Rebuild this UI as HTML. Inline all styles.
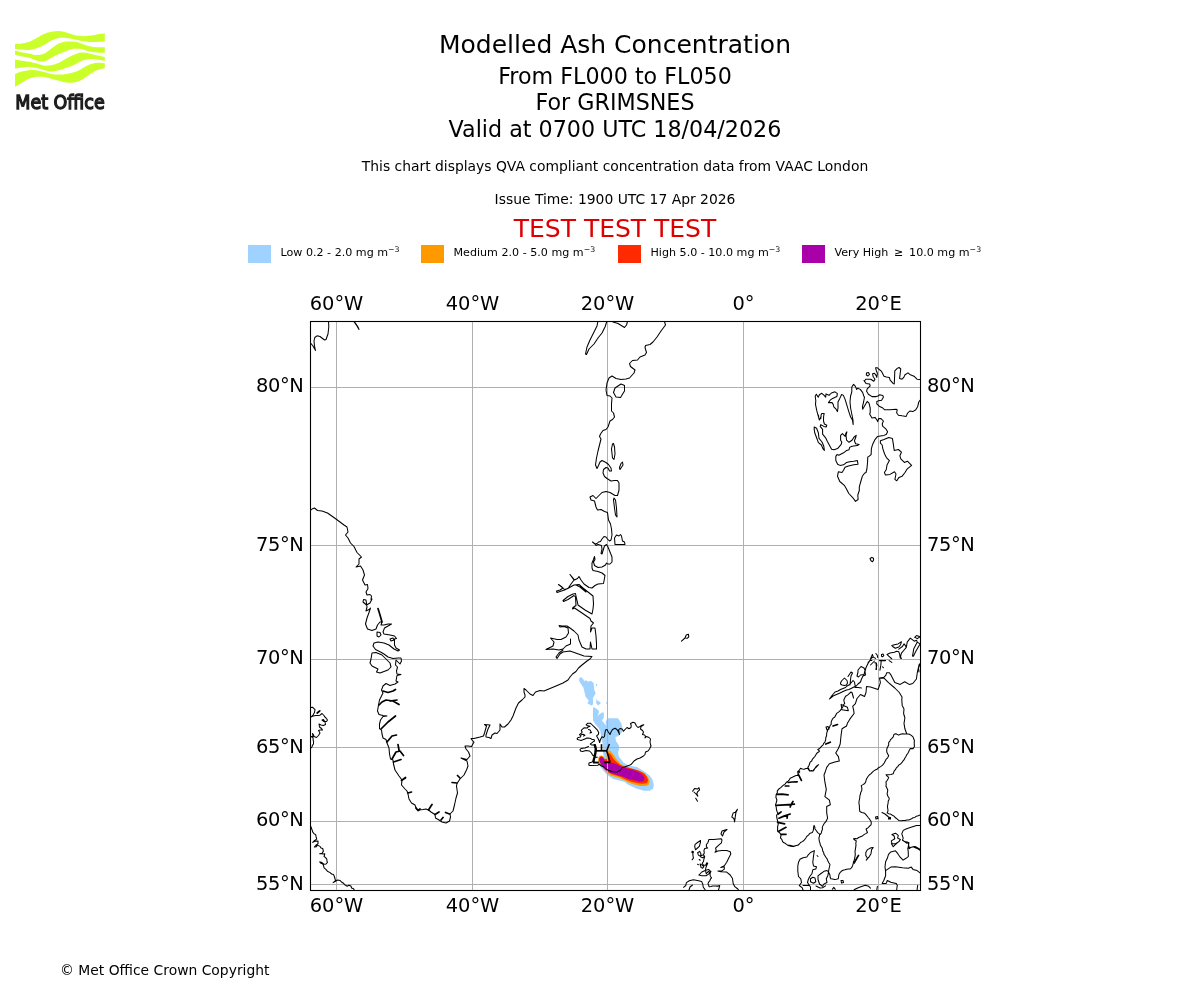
<!DOCTYPE html>
<html><head><meta charset="utf-8"><title>Modelled Ash Concentration</title>
<style>html,body{margin:0;padding:0;background:#fff;}body{width:1200px;height:1000px;overflow:hidden;}svg{display:block;font-family:'DejaVu Sans', 'Liberation Sans', sans-serif;will-change:transform;}</style>
</head><body>
<svg width="1200" height="1000" viewBox="0 0 1200 1000">
<g fill="#cbff2a">
<path d="M15.0,44.2 C15.9,44.1 17.9,44.2 20.2,43.8 C22.5,43.4 26.3,42.9 28.9,42.0 C31.5,41.1 33.2,39.9 35.7,38.5 C38.2,37.1 41.4,35.0 44.0,33.9 C46.6,32.8 48.9,32.2 51.4,31.7 C53.9,31.2 56.4,31.0 58.9,31.1 C61.4,31.2 63.8,31.9 66.3,32.6 C68.8,33.3 71.4,34.5 73.9,35.1 C76.4,35.7 78.8,36.0 81.4,36.1 C84.0,36.2 86.9,36.0 89.5,35.7 C92.1,35.4 94.4,34.9 96.9,34.5 C99.5,34.1 103.5,33.5 104.8,33.3 L104.8,41.3 C103.5,41.4 99.5,41.9 96.9,42.0 C94.4,42.1 92.1,42.2 89.5,42.0 C86.9,41.8 84.0,41.5 81.4,41.0 C78.8,40.5 76.4,39.8 73.9,39.3 C71.4,38.8 68.8,38.1 66.3,37.9 C63.8,37.7 61.4,37.5 58.9,37.9 C56.4,38.3 53.9,39.2 51.4,40.4 C48.9,41.6 46.6,43.6 44.0,45.0 C41.4,46.4 38.2,47.7 35.7,48.5 C33.2,49.3 31.5,49.9 28.9,50.0 C26.3,50.1 22.5,49.5 20.2,49.4 C17.9,49.2 15.9,49.1 15.0,49.1 Z"/>
<path d="M15.0,50.6 C15.9,50.8 17.9,51.4 20.2,51.9 C22.5,52.4 26.3,52.9 28.9,53.4 C31.5,53.9 33.2,54.9 35.7,55.0 C38.2,55.1 41.4,54.9 44.0,53.8 C46.6,52.7 48.9,50.2 51.4,48.5 C53.9,46.8 56.4,44.6 58.9,43.5 C61.4,42.4 63.8,41.9 66.3,41.6 C68.8,41.3 71.4,41.3 73.9,41.6 C76.4,41.9 78.8,42.7 81.4,43.5 C84.0,44.3 86.9,45.7 89.5,46.3 C92.1,46.9 94.4,47.1 96.9,47.2 C99.5,47.4 103.5,47.2 104.8,47.2 L104.8,52.8 C103.5,52.8 99.5,52.7 96.9,52.5 C94.4,52.3 92.1,52.2 89.5,51.6 C86.9,51.0 84.0,49.6 81.4,49.1 C78.8,48.6 76.4,48.5 73.9,48.8 C71.4,49.1 68.8,50.0 66.3,50.9 C63.8,51.8 61.4,52.9 58.9,54.0 C56.4,55.1 53.9,56.5 51.4,57.8 C48.9,59.0 46.6,61.1 44.0,61.5 C41.4,61.9 38.2,60.8 35.7,60.2 C33.2,59.6 31.5,58.5 28.9,57.8 C26.3,57.1 22.5,56.5 20.2,56.0 C17.9,55.5 15.9,54.9 15.0,54.7 Z"/>
<path d="M15.0,59.6 C15.9,59.8 17.9,60.1 20.2,60.5 C22.5,60.9 26.3,61.3 28.9,61.8 C31.5,62.3 33.2,62.7 35.7,63.3 C38.2,63.9 41.4,65.2 44.0,65.5 C46.6,65.8 48.9,65.7 51.4,65.2 C53.9,64.7 56.4,63.8 58.9,62.7 C61.4,61.6 63.8,59.7 66.3,58.4 C68.8,57.1 71.4,55.7 73.9,54.7 C76.4,53.7 78.8,52.7 81.4,52.5 C84.0,52.3 86.9,52.9 89.5,53.4 C92.1,53.9 94.4,54.7 96.9,55.3 C99.5,55.9 103.5,56.8 104.8,57.1 L104.8,60.9 C103.5,60.7 99.5,59.9 96.9,59.6 C94.4,59.3 92.1,58.8 89.5,59.0 C86.9,59.2 84.0,59.9 81.4,60.9 C78.8,61.9 76.4,63.8 73.9,64.9 C71.4,66.0 68.8,66.8 66.3,67.7 C63.8,68.6 61.4,69.6 58.9,70.2 C56.4,70.8 53.9,71.4 51.4,71.4 C48.9,71.4 46.6,70.6 44.0,70.0 C41.4,69.4 38.2,68.2 35.7,67.7 C33.2,67.2 31.5,67.0 28.9,67.0 C26.3,67.0 22.5,67.4 20.2,67.7 C17.9,68.0 15.9,68.4 15.0,68.6 Z"/>
<path d="M15.0,74.2 C15.9,73.8 17.9,72.7 20.2,72.0 C22.5,71.3 26.3,70.5 28.9,70.2 C31.5,69.9 33.2,69.9 35.7,70.2 C38.2,70.5 41.4,71.4 44.0,72.0 C46.6,72.6 48.9,73.5 51.4,73.9 C53.9,74.3 56.4,74.5 58.9,74.5 C61.4,74.5 63.8,74.3 66.3,73.9 C68.8,73.5 71.4,73.1 73.9,72.3 C76.4,71.5 78.8,70.2 81.4,68.9 C84.0,67.6 86.9,65.6 89.5,64.6 C92.1,63.6 94.4,62.9 96.9,62.7 C99.5,62.5 103.5,63.2 104.8,63.3 L104.8,68.3 C103.5,68.6 99.5,69.2 96.9,70.2 C94.4,71.2 92.1,72.8 89.5,74.5 C86.9,76.2 84.0,78.8 81.4,80.1 C78.8,81.4 76.4,82.2 73.9,82.6 C71.4,83.0 68.8,82.9 66.3,82.6 C63.8,82.3 61.4,81.3 58.9,80.7 C56.4,80.1 53.9,79.4 51.4,78.8 C48.9,78.2 46.6,77.3 44.0,77.0 C41.4,76.7 38.2,76.7 35.7,77.0 C33.2,77.3 31.5,77.7 28.9,78.8 C26.3,79.9 22.5,82.4 20.2,83.8 C17.9,85.2 15.9,86.4 15.0,86.9 Z"/>
</g>
<text x="15.3" y="108.9" font-family="'DejaVu Sans', sans-serif" font-weight="normal" font-size="20.2" fill="#1e1e1e" stroke="#1e1e1e" stroke-width="1.4" textLength="89.4" lengthAdjust="spacingAndGlyphs">Met Office</text>
<text x="615" y="53" font-size="25" text-anchor="middle" fill="#000" >Modelled Ash Concentration</text>
<text x="615" y="83.8" font-size="22.22" text-anchor="middle" fill="#000" >From FL000 to FL050</text>
<text x="615" y="110.2" font-size="22.22" text-anchor="middle" fill="#000" >For GRIMSNES</text>
<text x="615" y="136.9" font-size="22.22" text-anchor="middle" fill="#000" >Valid at 0700 UTC 18/04/2026</text>
<text x="615" y="171" font-size="13.89" text-anchor="middle" fill="#000" >This chart displays QVA compliant concentration data from VAAC London</text>
<text x="615" y="203.7" font-size="13.89" text-anchor="middle" fill="#000" >Issue Time: 1900 UTC 17 Apr 2026</text>
<text x="615" y="236.6" font-size="25" text-anchor="middle" fill="#dc0000" >TEST TEST TEST</text>
<rect x="248" y="245" width="23" height="18" fill="#a0d2ff"/>
<text x="280.5" y="256.2" font-size="11.11">Low 0.2 - 2.0 mg m<tspan font-size="7.8" dy="-4.2">−3</tspan></text>
<rect x="421" y="245" width="23" height="18" fill="#ff9900"/>
<text x="453.5" y="256.2" font-size="11.11">Medium 2.0 - 5.0 mg m<tspan font-size="7.8" dy="-4.2">−3</tspan></text>
<rect x="618" y="245" width="23" height="18" fill="#ff2a00"/>
<text x="650.5" y="256.2" font-size="11.11">High 5.0 - 10.0 mg m<tspan font-size="7.8" dy="-4.2">−3</tspan></text>
<rect x="802" y="245" width="23" height="18" fill="#aa00aa"/>
<text x="834.5" y="256.2" font-size="11.11">Very High  ≥  10.0 mg m<tspan font-size="7.8" dy="-4.2">−3</tspan></text>
<defs><clipPath id="mc"><rect x="310.5" y="321.5" width="610" height="569"/></clipPath></defs>
<g clip-path="url(#mc)">
<path fill="#a0d2ff" d="M579.2,678.6 L581,677.1 L583.7,679.8 L584,681.6 L585.5,680.1 L587.6,681.6 L591.2,681 L593.6,683.1 L594.2,689.4 L595.7,693.6 L593,697.8 L593,704.4 L591.2,705.6 L587.3,703.2 L588.8,700.8 L585.5,696.6 L584.6,692.4 L583.4,687.6 L581,684 L579.2,681 Z"/><path fill="#a0d2ff" d="M596.3,698.4 L597.5,700.8 L600.2,702 L600.8,703.2 L598.1,705.6 L596.3,703.2 Z"/><path fill="#a0d2ff" d="M593,707.4 L594.8,707.4 L598.7,710.4 L599,712.2 L597.2,716.4 L599,714.6 L602.6,712.2 L603.8,712.8 L603.8,717.6 L602,720.6 L605,724.2 L606.2,725.4 L605.6,721.8 L606.8,719.4 L608,718.2 L617.9,718.2 L621.2,723 L622.4,727.8 L622.3,732 L618.1,736.2 L615.3,736.9 L616,741.1 L618.8,745.3 L619.2,748.8 L618.1,752.3 L618.8,756.5 L623.7,762.8 L628.6,765.6 L637,767 L644,771.2 L649.6,775.4 L652.4,779.6 L653.8,784.5 L653.1,788.7 L649.6,790.8 L644,790.8 L637,788.7 L632.1,786.6 L627.9,784.5 L624.4,781.7 L618.1,780.3 L613.2,778.9 L609.7,776.8 L606.2,774 L602.7,769.8 L599.9,766.3 L598,762 L599,759 L601,758 L603.5,757 L603,750 L603,745 L602,741 L601,735 L600.2,730.8 L598.4,727.8 L595.4,724.2 L593,720.6 Z"/><rect x="596" y="684" width="1" height="2" fill="#a0d2ff"/><rect x="606.3" y="702" width="0.8" height="2" fill="#a0d2ff"/><path fill="#ff9900" d="M608,750.2 L610.4,750.9 L613.2,754.4 L616,758.6 L619.5,762.8 L623,765.6 L628.6,767.7 L634.2,769.1 L640.5,771.2 L645.4,774 L648.2,777.5 L649.6,781 L648.9,784.5 L646.1,785.9 L640.5,785.9 L634.2,784.5 L628.6,782.4 L624.4,780.3 L619.5,778.2 L614.6,776.8 L610.4,775.4 L607.6,773.3 L604.8,770.5 L602,767 L599.5,764 L598.2,761 L598.2,758 L599.5,756 L601.5,755.5 L603.2,756.5 L604.2,758.5 L606.5,758.8 L606.8,755 L606.3,751.5 Z"/><path fill="#ff2a00" d="M609,753 L611.1,755.1 L613.2,758.6 L616,761.4 L620.2,764.9 L625.8,767 L631.4,768.4 L638.4,770.5 L644,773.3 L646.8,776.8 L648.2,780.3 L646.8,783.1 L642.6,783.8 L637,783.1 L631.4,781.7 L625.8,779.6 L620.2,776.8 L616,775.4 L611.1,774 L608.3,771.9 L605.5,769.1 L602.7,765.6 L600.4,763 L599,760.5 L599,758.2 L600,756.7 L601.7,756.3 L603.4,757.2 L604.5,759.3 L607.5,759.3 L607.5,756 L607,752.5 Z"/><path fill="#aa00aa" d="M600.2,757.4 L601.7,757 L603.3,758.3 L604.2,760 L604.6,761.8 L609,762.6 L613.9,763.2 L618.1,764.9 L622.3,767 L627.2,768.4 L632.8,769.8 L638.4,771.9 L642.6,774.7 L644.7,778.2 L644,781 L639.8,781.7 L634.2,780.3 L628.6,778.9 L623.7,776.8 L618.8,775.4 L613.9,774 L609,772.6 L605.5,769.8 L602.7,767 L600.8,764 L599.7,761 L599.6,758.8 Z"/>
<g stroke="#b0b0b0" stroke-width="1" fill="none">
<line x1="336.5" y1="321" x2="336.5" y2="890"/>
<line x1="472.5" y1="321" x2="472.5" y2="890"/>
<line x1="607.5" y1="321" x2="607.5" y2="890"/>
<line x1="743.5" y1="321" x2="743.5" y2="890"/>
<line x1="878.5" y1="321" x2="878.5" y2="890"/>
<line x1="310" y1="387.5" x2="920" y2="387.5"/>
<line x1="310" y1="545.5" x2="920" y2="545.5"/>
<line x1="310" y1="659.5" x2="920" y2="659.5"/>
<line x1="310" y1="747.5" x2="920" y2="747.5"/>
<line x1="310" y1="821.5" x2="920" y2="821.5"/>
<line x1="310" y1="884.5" x2="920" y2="884.5"/>
</g>
<g stroke="#000" fill="none" stroke-linejoin="round" stroke-linecap="round">
<path stroke-width="1.05" d="M311.0,343.5 L313.0,346.0 L315.5,350.5 L314.5,346.0 L314.0,341.0 L314.8,337.5 L317.0,335.8 L320.0,336.5 L324.5,340.0 L326.0,339.5 L328.0,334.0 L328.8,327.0 L328.5,321.0 M353.5,321.0 L357.0,326.0 L359.0,329.5 L358.0,327.0 L355.0,322.5 L354.5,321.0 M598.0,321.0 L597.0,326.0 L594.0,332.0 L590.0,340.0 L587.0,347.0 L585.5,354.0 L586.5,354.5 L589.0,349.0 L594.0,344.0 L598.0,338.0 L602.0,333.0 L605.0,327.0 L606.5,322.5 L607.0,321.0 M612.0,321.0 L613.0,322.0 L618.0,323.5 L624.5,327.5 L626.5,325.0 L627.5,321.5 M664.5,321.5 L665.5,325.0 L661.0,331.0 L657.0,337.0 L653.0,342.0 L650.0,344.5 L645.5,345.5 L645.0,347.5 L646.5,352.5 L645.0,355.0 L640.0,357.0 L637.5,360.0 L632.5,360.5 L629.5,363.5 L630.5,366.5 L635.0,370.0 L634.0,373.0 L629.5,378.0 L626.0,379.0 L621.0,379.5 L616.0,378.5 L612.0,376.0 L609.0,378.0 L607.0,383.0 L606.0,390.0 L607.0,395.5 L610.0,396.0 L612.0,398.0 L611.5,404.0 L611.5,411.0 L613.5,413.0 L614.5,417.0 L612.5,419.5 L610.0,421.0 L608.0,427.0 L606.0,429.5 L603.0,430.5 L600.5,434.0 L599.5,436.5 L601.0,439.0 L599.5,445.0 L598.0,451.0 L596.5,458.0 L595.5,465.0 L597.0,468.5 L598.5,465.5 L600.0,462.0 L602.0,460.5 L606.0,462.5 L608.5,464.5 L611.0,468.0 L611.5,471.0 L609.5,471.0 L608.0,468.0 L606.0,467.5 L603.5,469.5 L603.0,473.0 L604.5,476.5 L607.0,478.5 L611.0,481.0 L614.5,480.5 L617.5,480.5 L619.0,483.0 L619.0,490.0 L617.5,495.5 L615.0,495.5 L610.0,492.5 L606.0,491.5 L602.0,492.5 L599.0,495.5 L596.0,498.5 L593.0,495.5 L590.0,497.0 L591.0,500.0 L594.5,501.0 L596.0,507.0 L597.5,510.0 L601.0,509.5 L604.5,511.5 L607.5,512.5 L608.5,520.0 L610.5,524.0 L611.5,529.0 L612.0,535.0 L611.0,540.0 L609.5,541.0 L607.5,539.0 L606.0,537.0 L604.0,536.5 L602.0,539.0 L600.5,541.5 L598.5,542.0 L597.0,543.5 L595.0,544.0 L592.5,542.0 L594.5,543.5 L596.0,545.5 L598.0,544.5 L601.5,545.5 L602.0,549.0 L601.0,553.5 L602.0,554.0 L603.5,549.0 L604.5,546.0 L606.5,544.5 L608.0,547.0 L610.0,552.0 L612.0,557.0 L612.0,562.0 L610.0,564.0 L607.5,564.0 L606.5,563.0 L605.5,565.0 L602.0,567.0 L598.0,567.5 L594.5,565.5 L593.5,562.0 L595.0,559.5 L594.5,556.5 L593.5,559.5 L592.0,563.0 L592.0,568.0 L593.0,570.5 L598.0,571.5 L602.0,573.0 L605.0,575.5 L604.0,581.0 L603.5,583.5 L598.0,584.0 L595.0,585.5 L592.0,588.0 L589.0,587.5 L584.0,584.0 L581.0,580.0 L579.0,576.5 L577.5,578.5 L574.5,580.0 L573.0,578.0 L570.0,574.5 L574.0,580.0 L571.0,584.0 L568.0,588.5 L564.5,589.5 L562.0,587.0 L558.5,584.5 L563.0,588.0 L560.0,590.0 L556.5,591.0 L557.0,592.5 L560.0,591.5 L564.5,590.0 L569.5,587.5 L574.0,585.0 L579.0,584.5 L583.0,588.0 L588.0,592.0 L593.0,596.0 L593.5,604.0 L593.0,609.0 L592.0,614.0 L585.0,610.0 L578.0,605.0 L576.0,596.0 L575.5,593.5 L573.0,594.0 L568.0,596.5 L563.0,600.5 L563.5,601.5 L568.0,599.5 L574.0,595.5 L575.5,597.0 L576.0,605.5 L573.0,607.5 L572.5,609.0 L574.5,608.0 L582.0,613.0 L590.0,618.5 L591.0,621.0 L593.5,623.0 L591.0,626.0 L590.5,632.0 L592.0,628.0 L595.0,628.0 L596.0,636.0 L596.5,644.0 L596.5,649.0 L592.0,649.0 L590.5,642.0 L590.0,649.0 L586.0,649.0 L582.0,647.0 L579.0,640.0 L578.0,635.0 L574.0,631.0 L570.0,628.0 L567.0,626.0 L562.0,626.0 L559.0,625.5 L560.0,627.0 L564.0,626.5 L568.0,628.0 L568.5,633.0 L566.0,637.0 L561.0,639.5 L557.0,639.5 L550.5,638.0 L554.0,642.0 L553.0,646.0 L546.0,649.5 L553.0,649.0 L559.0,650.0 L563.0,649.0 L566.0,646.0 L570.5,644.0 L570.5,639.0 M563.0,650.0 L559.0,653.0 L556.0,657.0 L557.0,658.5 L560.0,654.0 L563.0,652.0 L570.0,651.0 L577.0,653.5 L584.0,656.0 L592.0,656.5 L590.0,659.0 L587.0,661.0 L582.0,665.0 L578.5,668.0 L576.0,671.5 L572.5,674.0 L570.0,677.0 L568.0,680.0 L563.0,683.0 L556.0,686.0 L550.0,688.5 L544.0,691.0 L540.0,690.5 L535.5,692.0 L533.0,695.5 L530.0,694.0 L526.0,690.0 L524.0,688.5 L524.0,692.0 L525.0,695.0 L525.0,697.0 L522.0,700.0 L518.5,703.0 L516.0,708.0 L513.0,716.0 L511.0,720.0 L508.0,724.0 L504.5,727.0 L502.0,727.0 L500.0,724.0 L500.0,730.0 L497.0,733.5 L495.0,733.0 L492.0,735.0 L491.0,738.5 L489.0,737.5 L486.0,737.0 L486.0,735.0 L488.0,729.0 L490.0,725.0 L484.5,724.5 L486.5,726.0 L484.5,733.0 L483.5,736.0 L480.0,737.0 L474.0,738.5 L471.0,738.5 L472.0,740.0 L474.0,742.0 L471.5,746.5 L468.0,746.0 L465.0,746.0 L466.0,749.0 L468.5,752.0 L470.0,756.0 L467.0,759.5 L461.0,758.0 L464.0,759.5 L467.0,761.0 L468.0,766.0 L466.5,770.0 L464.0,775.0 L460.0,779.0 L457.0,783.5 L456.5,786.0 L457.5,793.0 L456.0,798.0 L454.5,805.0 L453.0,811.0 L450.0,814.0 L450.5,817.0 L449.5,821.0 L446.0,823.0 L442.0,822.0 L439.0,820.0 L435.5,818.0 L435.0,814.5 L431.0,812.0 L428.5,810.0 L426.0,809.0 L423.0,809.5 L419.0,810.0 L416.5,809.0 L415.0,805.0 L411.5,803.0 L409.0,799.0 L408.0,794.0 L407.0,791.0 L405.0,789.0 L401.5,785.0 L402.0,780.0 L399.0,776.0 L395.0,770.0 M310.0,511.0 L312.0,509.0 L314.5,508.0 L317.5,510.5 L322.0,511.0 L327.5,513.0 L336.0,519.0 L344.0,525.0 L347.0,527.0 L348.0,532.0 L345.5,535.0 L348.0,538.0 L350.5,543.0 L354.0,546.5 L357.0,552.5 L361.5,557.0 L359.0,559.0 L359.0,564.0 L356.0,567.0 L360.5,566.0 L363.0,570.0 L364.5,575.0 L362.5,580.0 L365.0,585.0 L367.5,584.5 L368.0,588.5 L366.0,592.0 L367.0,595.0 L370.0,594.5 L371.5,596.0 L371.0,599.5 L372.0,599.0 L370.0,603.0 L366.5,605.0 L363.0,602.0 L363.5,599.5 L366.0,600.0 L367.0,607.0 L366.0,611.0 L369.0,609.5 L370.5,608.0 L369.0,612.5 L367.0,618.0 L365.5,624.0 L367.5,629.0 L372.0,630.5 L376.0,629.0 L377.5,625.0 L380.0,622.0 L382.0,622.0 L381.0,625.0 L384.0,625.0 L388.0,624.0 L391.5,624.0 L388.0,626.0 L384.5,628.0 L383.0,632.0 L384.0,634.0 L390.0,635.0 L394.5,636.0 L396.5,638.5 L394.5,639.0 L394.5,645.0 L396.0,648.0 L399.5,650.0 L398.0,651.0 L394.0,649.0 L389.0,645.0 L384.0,643.0 L378.0,642.0 L374.0,643.0 L373.0,646.0 L375.5,649.5 L380.5,652.0 L384.0,654.0 L388.0,657.0 L393.0,658.5 L398.0,658.0 L401.0,658.0 L401.5,661.0 L400.0,664.0 L396.0,660.0 L395.5,665.0 L397.5,667.0 L396.5,671.0 L397.0,674.0 L401.0,674.5 L397.0,675.5 L396.0,681.0 L398.0,682.0 L395.0,684.0 L390.0,685.5 L386.0,683.5 L383.0,686.0 L381.5,690.0 L383.0,693.0 L381.0,697.0 L379.5,700.0 L378.5,705.0 L377.5,711.0 L379.0,714.5 L383.0,715.5 L387.0,716.0 L383.0,716.5 L380.5,720.0 L379.5,724.0 L379.5,728.5 L381.5,730.0 L382.0,734.0 L383.0,738.0 L386.0,739.5 L387.0,743.0 L389.0,748.0 L389.5,754.0 L390.5,759.0 L393.0,760.0 L393.5,764.0 L395.0,770.0 M372.0,653.0 L376.0,652.5 L382.0,655.0 L386.0,659.0 L390.0,663.0 L391.0,667.0 L388.0,670.0 L380.0,673.0 L376.5,672.0 L378.0,669.0 L372.0,666.0 L370.0,663.0 L371.0,659.0 L372.0,653.0 M377.0,632.0 L380.0,632.5 L381.0,635.0 L379.0,637.0 L377.0,636.0 L377.0,632.0 M390.0,639.0 L393.0,638.0 L394.0,640.0 L391.0,641.0 L390.0,639.0 M613.5,443.5 L614.5,447.0 L615.0,454.0 L614.0,459.5 L612.5,458.0 L611.5,449.0 L612.5,444.0 L613.5,443.5 M622.5,462.0 L623.0,465.0 L620.0,469.5 L619.5,467.5 L621.0,463.5 L622.5,462.0 M614.0,498.0 L615.5,500.0 L616.5,508.0 L617.0,517.0 L615.5,515.0 L614.5,508.0 L613.5,500.0 L614.0,498.0 M621.0,384.0 L624.5,385.5 L624.5,391.0 L620.5,397.5 L616.0,397.0 L613.5,392.5 L615.0,388.0 L621.0,384.0 M615.0,544.5 L614.5,538.0 L616.5,535.0 L619.0,536.0 L620.5,534.5 L621.5,536.0 L622.5,541.0 L624.5,542.0 L625.0,544.5 L615.0,544.5 M576.0,585.0 L580.0,587.0 L586.0,592.0 M310.5,707.5 L312.5,707.2 L313.7,708.4 L315.0,709.5 L314.5,712.5 L313.0,715.0 L311.0,717.0 L313.0,716.0 L316.0,715.5 L318.0,715.6 L320.0,715.2 L322.0,713.5 L324.0,715.5 L324.8,716.9 L326.0,718.0 L327.5,720.0 L326.5,721.5 L324.0,721.5 L322.0,720.0 L323.5,719.5 L325.0,722.0 L325.5,724.5 L323.5,725.5 L321.0,725.0 L319.0,724.0 L319.5,727.0 L321.5,728.5 L322.5,730.0 L320.0,730.0 L318.5,730.5 L320.0,733.0 L318.5,735.5 L316.5,737.5 L314.0,736.5 L313.5,734.9 L312.5,733.5 L313.0,736.5 L311.0,736.5 L313.0,737.5 L313.2,740.0 L313.5,742.0 L313.5,744.0 L312.4,745.3 L312.0,747.0 L310.8,748.2 M310.5,826.0 L311.0,827.0 L312.0,829.7 L312.7,831.9 L314.0,833.7 L315.7,834.6 L316.0,836.4 L316.7,839.1 L314.7,840.4 L312.7,842.4 L315.4,841.1 L318.0,841.1 L318.0,843.8 L316.6,844.6 L315.4,845.8 L314.4,847.1 L316.3,846.7 L317.4,845.1 L320.1,846.4 L321.0,848.0 L322.7,848.5 L323.4,851.1 L322.1,853.2 L319.7,853.8 L321.4,853.8 L323.1,854.1 L324.8,853.8 L324.1,856.5 L325.6,857.7 L326.8,859.2 L327.0,860.9 L327.4,862.5 L326.1,863.9 L324.2,864.3 L322.7,863.2 L321.3,862.2 L319.7,861.9 L320.8,863.2 L322.5,863.8 L323.4,865.2 L324.1,867.9 L325.9,869.4 L327.4,871.2 L330.1,872.6 L331.6,874.0 L333.5,874.6 L334.3,876.3 L334.8,878.0 L335.5,880.6 L333.1,882.6 L335.5,881.3 L337.5,880.0 L340.2,880.6 L341.5,882.0 L343.5,883.3 L345.5,885.3 L347.2,886.2 L348.9,885.3 L350.9,886.0 L351.6,888.0 L353.6,888.7 L354.2,890.0 M594.8,744.5 L593.5,745.0 L591.5,744.9 L590.3,744.0 L591.8,742.8 L593.0,741.9 L594.5,741.0 L594.2,739.8 L591.8,739.2 L590.0,738.3 L587.0,738.0 L584.9,738.9 L582.8,739.8 L581.0,740.4 L579.5,740.1 L577.4,739.5 L577.1,738.6 L578.3,737.4 L580.4,737.1 L581.0,735.6 L579.5,734.7 L581.0,733.5 L582.2,732.0 L581.3,730.8 L582.2,729.3 L584.0,727.8 L587.3,728.1 L587.6,727.2 L590.0,726.3 L587.0,725.4 L586.1,724.8 L587.6,723.3 L590.6,723.3 L591.8,724.5 L594.5,727.2 L597.5,730.2 L598.7,732.6 L598.4,734.4 L596.6,735.9 L597.8,738.0 L599.0,740.4 L599.6,742.5 L600.5,739.5 L602.0,736.8 L603.5,737.5 L604.5,736.5 L605.0,732.5 L605.5,730.0 L607.0,729.5 L608.0,731.5 L610.0,734.5 L611.0,732.0 L612.5,729.5 L615.0,728.2 L617.0,729.5 L618.5,732.0 L619.5,734.5 L618.5,730.0 L620.0,728.5 L622.0,729.0 L623.5,731.2 L625.5,729.0 L627.0,727.5 L629.0,728.8 L631.0,727.5 L631.2,725.5 L630.5,723.5 L633.0,722.2 L635.0,723.0 L636.5,726.0 L638.0,727.5 L640.0,726.5 L642.0,725.2 L643.8,724.8 L641.0,726.5 L640.5,729.0 L642.5,730.5 L643.5,732.0 L642.5,734.5 L644.5,735.0 L645.5,736.0 L645.0,738.0 L646.5,736.5 L649.0,737.5 L650.5,739.0 L650.0,742.0 L650.5,744.5 L651.0,746.0 L649.5,749.0 L648.0,751.0 L645.5,752.0 L645.0,754.5 L643.5,756.0 L640.0,758.0 L637.0,759.0 L634.0,761.0 L631.4,764.2 L628.6,765.6 L624.4,767.0 L622.0,767.5 L621.5,769.0 L620.0,770.5 L617.0,772.0 L613.0,771.8 L609.0,770.5 L606.0,769.0 L604.0,767.0 L601.5,766.0 L599.0,764.0 L598.0,765.2 L589.8,765.5 L588.8,765.0 L589.0,763.0 L592.0,762.0 L594.0,761.0 M588.5,746.5 L585.0,748.0 L581.0,748.5 L580.0,749.5 L580.5,751.0 L582.5,751.5 L586.0,750.5 L589.5,751.0 L591.5,753.0 L592.5,755.0 L594.0,756.0 M588.5,729.5 L590.0,730.0 L591.0,731.5 L590.0,733.0 L591.5,732.5 M581.6,734.6 L583.0,734.2 L584.9,735.3 L583.5,736.0 M681.5,641.2 L685.0,638.0 L686.2,635.0 L688.4,634.2 L688.8,636.8 L687.5,638.2 L685.5,638.0 M870.0,558.5 L871.8,557.4 L873.5,558.2 L873.6,560.0 L872.5,561.8 L871.0,560.8 L870.0,558.5 M818.4,415.0 L819.0,419.2 L820.8,418.6 L821.1,415.0 L821.8,413.4 L824.2,413.4 L823.6,416.4 L823.5,421.0 L824.4,424.0 L826.8,425.2 L826.2,427.0 L823.8,426.4 L820.8,424.6 L820.2,426.4 L822.6,429.4 L822.6,434.2 L825.6,437.8 L827.4,441.4 L831.6,449.2 L834.0,449.8 L837.6,448.6 L841.2,444.4 L841.8,442.0 L840.6,440.2 L840.6,435.4 L842.4,433.6 L844.2,435.4 L845.1,436.3 L846.0,433.0 L846.9,431.8 L846.0,435.4 L846.6,440.2 L849.0,442.3 L852.0,440.2 L854.4,436.6 L856.2,435.4 L855.6,437.8 L854.4,440.8 L855.6,443.8 L859.2,444.4 L857.4,445.6 L852.0,446.2 L849.6,447.4 L849.0,449.8 L846.6,450.4 L843.6,452.8 L838.8,455.2 L837.0,454.6 L835.8,456.4 L835.8,460.6 L837.6,464.2 L840.0,465.4 L843.6,464.8 L846.6,462.4 L849.6,461.8 L853.8,461.2 L857.4,460.6 L858.0,464.2 L853.8,464.8 L848.4,466.0 L845.0,467.3 L843.5,470.3 L842.0,472.5 L838.3,471.8 L837.5,476.3 L839.8,481.5 L844.3,485.3 L846.5,489.0 L848.8,493.5 L852.5,497.3 L855.5,501.4 L858.1,499.5 L857.8,495.0 L859.3,490.5 L859.3,486.8 L860.8,481.5 L862.3,476.3 L864.5,473.3 L866.0,472.6 L866.9,469.0 L867.5,463.0 L867.8,457.0 L869.0,456.4 L871.1,454.6 L871.4,448.6 L872.6,444.4 L875.0,439.6 L877.4,436.6 L880.4,436.0 L884.0,435.4 L886.4,434.2 L887.6,431.8 L885.8,428.8 L882.8,426.4 L882.2,424.0 L883.4,421.0 L881.0,418.6 L878.6,418.6 L877.7,421.6 L876.8,419.8 L875.0,417.4 L872.0,418.0 L869.6,414.0 L870.2,412.8 L870.2,408.0 L869.0,403.2 L867.2,401.4 L864.8,405.6 L862.7,409.2 L862.4,406.8 L863.6,402.0 L864.5,397.2 L863.8,396.0 L862.6,392.4 L860.2,389.4 L857.8,388.2 L856.6,389.4 L855.4,386.4 L853.6,384.3 L851.8,387.0 L851.8,391.8 L850.6,396.0 L850.0,402.0 L850.6,408.0 L851.8,414.0 L853.0,420.0 L853.2,424.6 L852.4,420.0 L850.6,417.0 L848.8,411.6 L847.0,405.6 L845.2,399.6 L843.4,395.4 L841.6,394.5 L839.8,398.4 L838.0,402.0 L838.0,408.0 L837.4,411.6 L835.6,408.6 L833.8,406.8 L833.2,404.4 L832.0,402.6 L828.4,402.6 L830.2,400.2 L832.6,398.4 L836.8,396.6 L837.4,393.6 L835.0,391.8 L831.4,393.0 L829.0,395.4 L827.8,394.8 L826.0,393.9 L825.7,397.2 L823.6,394.8 L821.8,393.3 L819.4,394.8 L818.2,397.2 L816.4,394.2 L815.2,396.0 L815.8,400.8 L815.5,404.4 L816.7,410.4 L818.2,415.8 L819.4,420.0 L821.2,416.4 M814.2,427.0 L816.6,428.2 L818.4,433.0 L819.0,438.4 L822.0,442.0 L823.8,446.2 L824.4,450.4 L823.2,449.2 L821.4,445.0 L818.4,442.6 L816.6,437.8 L814.8,433.0 L814.2,429.4 L814.2,427.0 M867.2,388.8 L870.2,385.8 L869.6,384.0 L866.0,383.4 L864.2,381.0 L866.0,379.2 L870.8,379.2 L873.8,381.3 L875.0,379.2 L873.2,376.8 L872.6,373.8 L874.4,373.2 L876.2,375.6 L876.8,377.4 L877.4,373.2 L876.2,370.2 L875.6,367.8 L877.4,367.8 L878.6,369.0 L881.6,371.4 L884.0,376.2 L886.4,377.1 L889.4,377.4 L890.0,379.8 L893.0,383.4 L894.2,384.0 L894.5,379.2 L894.8,370.8 L897.2,368.4 L899.0,367.5 L900.8,369.0 L900.2,373.2 L899.6,378.6 L902.0,379.2 L903.8,377.4 L905.0,374.7 L908.0,372.9 L909.8,374.4 L914.0,376.2 L917.0,379.2 L920.0,379.5 M867.2,388.8 L866.6,391.2 L868.4,394.2 L872.0,396.6 L876.2,396.6 L878.0,396.0 L879.8,394.8 L882.8,395.4 L883.4,397.2 L881.6,400.2 L878.6,400.8 L876.8,401.4 L876.8,403.8 L879.2,406.2 L882.8,408.0 L884.6,409.8 L890.0,409.8 L896.0,409.2 L897.2,409.8 L896.6,412.8 L898.4,415.2 L902.0,415.8 L906.2,416.4 L907.4,413.4 L909.8,411.0 L912.8,411.6 L915.8,409.8 L917.6,406.8 L918.8,402.0 L920.0,400.2 M866.5,373.0 L868.5,372.5 L869.5,374.5 L868.0,376.0 L866.3,375.0 L866.5,373.0 M864.0,380.6 L864.8,381.4 M880.4,440.8 L884.0,439.6 L888.8,437.5 L892.4,438.4 L893.3,443.8 L894.2,450.4 L898.4,449.5 L901.4,452.2 L899.9,455.8 L900.8,458.8 L904.4,462.4 L907.4,461.2 L911.6,465.4 L911.0,465.8 L907.3,468.8 L905.0,472.5 L902.0,476.3 L899.0,477.4 L896.8,480.8 L894.9,479.3 L896.0,474.0 L894.5,471.8 L890.0,474.4 L885.5,475.1 L884.4,472.5 L886.3,469.5 L887.0,465.0 L889.4,460.6 L886.4,457.6 L884.6,454.0 L882.8,448.6 L882.2,445.0 L880.4,443.2 L880.4,440.8 M849.2,693.6 L851.0,692.0 L852.0,692.5 L853.0,696.0 L853.5,698.0 M855.0,687.5 L858.0,684.0 L860.5,682.0 L861.5,679.0 L863.0,676.0 L865.5,675.0 L865.0,671.5 L866.0,667.5 L868.0,663.5 L870.0,660.5 L871.5,658.0 L873.0,657.0 M855.0,687.5 L858.0,687.6 L861.5,688.0 M829.5,699.0 L832.0,695.5 L835.0,692.0 L838.0,691.0 L840.5,689.5 L843.0,688.5 L845.5,687.5 L847.0,686.0 L849.0,685.0 L851.0,683.0 L853.0,680.5 L854.5,682.0 L855.0,685.0 M830.0,698.5 L833.0,696.0 L836.5,694.5 L840.0,693.0 L843.0,691.5 L846.5,690.0 L849.0,689.5 L852.0,688.0 L854.0,687.0 L855.5,685.5 M840.5,683.0 L841.5,681.0 L844.5,678.0 L845.5,679.0 L847.0,680.5 L847.5,683.0 L846.5,685.0 L844.5,685.5 L842.0,685.0 L840.5,684.0 L840.5,683.0 M848.0,676.5 L851.0,672.0 L852.5,673.0 L851.0,676.0 L850.5,680.0 L850.0,685.0 M857.0,676.0 L858.0,672.0 L858.0,670.0 L861.0,666.5 L864.0,668.0 L865.0,670.0 L864.0,674.5 L860.5,675.0 L858.5,677.0 L857.0,676.0 M870.6,658.4 L872.4,654.4 L873.3,657.1 L875.5,658.4 M875.9,653.5 L877.3,655.3 L877.7,657.5 M881.5,654.5 L883.0,654.0 L883.8,655.5 L882.8,656.8 L881.5,656.2 L881.5,654.5 M891.8,658.8 L890.9,658.0 L888.7,656.2 L887.0,654.4 L890.0,653.1 L894.4,652.2 L896.6,651.3 L898.8,651.8 L899.7,654.4 L900.2,658.0 L901.5,658.4 M891.8,645.6 L894.4,644.7 L898.0,643.9 L901.5,641.7 L900.6,644.7 L898.8,647.0 L895.3,648.3 L892.7,646.5 L891.8,645.6 M898.8,649.1 L902.4,646.5 L904.1,643.9 L905.4,645.6 L906.3,647.4 L904.1,650.0 L901.5,653.1 L900.6,656.2 L901.0,658.4 M906.3,647.4 L907.2,642.1 L910.3,638.1 L914.3,641.2 L916.5,640.3 L917.3,642.1 M914.7,637.3 L916.5,635.5 L920.0,636.8 L917.3,638.6 L914.7,637.3 M912.5,656.2 L913.8,648.7 L917.3,642.1 L920.0,643.9 L915.6,651.8 L913.4,656.2 M868.0,662.8 L869.8,660.6 L872.0,660.5 M874.6,662.8 L876.4,663.2 L876.8,665.4 L875.9,669.4 M879.5,660.6 L885.6,660.6 M881.2,661.0 L880.8,665.4 L879.9,670.3 M882.5,666.8 L883.4,667.6 M889.1,660.6 L891.8,662.4 M870.5,665.0 L874.5,661.0 M876.0,662.5 L876.5,669.5 M920.0,664.0 L918.5,668.0 L919.0,672.0 M879.5,678.1 L884.0,677.2 L885.8,675.4 L886.7,672.7 L889.4,672.7 L891.2,675.4 L894.8,682.6 L900.2,684.4 L904.7,681.7 L909.2,684.4 L912.8,683.5 L916.4,679.0 L917.3,672.7 L919.1,664.6 L920.0,663.7 M879.5,678.1 L884.0,678.1 L888.5,682.6 L894.8,688.0 L899.3,692.5 L902.0,697.0 L901.8,700.0 L902.2,705.4 L904.0,709.0 L903.6,713.5 L904.9,718.0 L904.0,723.4 L904.9,728.8 L906.7,733.8 M879.5,678.1 L880.4,682.6 L878.6,688.0 L878.0,689.5 L870.5,687.0 L866.5,686.5 L866.0,692.5 L864.5,696.5 L860.5,694.5 L857.0,698.5 L855.4,703.6 L852.7,706.3 L853.6,709.9 L854.1,713.5 L850.0,718.9 L847.4,723.3 L846.5,726.0 L842.0,728.7 L841.1,735.0 L840.2,744.0 L838.4,748.5 L835.7,753.0 L838.4,756.6 L839.3,761.1 L834.8,762.0 L829.4,763.8 L826.7,767.4 L824.9,772.8 L824.0,775.0 L824.9,782.2 L826.3,789.4 L824.9,796.6 L829.4,800.2 L830.3,804.7 L826.7,806.5 L826.7,812.8 L827.6,818.2 L825.8,821.8 M849.2,693.6 L847.5,695.1 L845.6,696.3 L844.7,698.1 L843.8,699.9 L844.1,701.7 L844.7,703.5 L843.4,704.8 L843.0,706.6 L842.0,708.0 L841.1,709.3 L840.2,710.7 L838.5,712.1 L836.6,713.4 L835.7,715.2 L834.8,717.0 L833.2,718.1 L832.1,719.7 L831.2,721.9 L831.2,724.2 L830.0,725.8 L829.4,727.8 L828.2,728.9 L827.6,730.5 L826.7,733.2 L826.6,735.5 L825.8,737.7 L825.6,740.0 L824.9,742.2 L823.7,743.3 L823.1,744.9 L821.7,746.2 L820.4,747.6 L819.2,748.8 L817.7,749.4 L819.5,751.2 L818.2,752.3 L816.8,753.3 L815.9,754.8 L814.9,756.5 L813.6,757.9 L812.3,759.3 L811.7,761.0 L810.1,762.1 L809.6,763.8 L808.9,765.7 L807.8,767.4 L808.9,769.1 L809.6,771.0 L811.4,770.6 L813.2,771.0 L813.8,769.5 L815.0,768.3 L815.9,766.8 L817.1,765.6 L818.6,764.7 L817.4,765.9 L816.3,767.2 L815.0,768.3 L814.2,769.7 L813.2,771.0 L811.4,770.9 L809.6,771.0 L808.6,769.7 L807.8,768.3 L805.9,768.5 L804.2,769.2 L802.3,769.0 L800.6,768.3 L799.3,770.1 L797.9,771.9 L798.0,773.7 L797.9,775.5 L796.1,775.6 L794.4,776.2 L792.3,777.3 L790.2,778.3 L789.3,779.8 L788.1,781.1 L786.4,782.2 L785.3,783.9 L783.4,785.1 L781.8,786.7 L780.5,787.9 L779.0,788.8 L777.3,790.9 L777.3,793.0 L776.2,794.4 L775.9,797.2 L776.9,800.0 L776.2,802.8 L775.5,804.9 L776.2,807.0 L776.4,809.1 L776.9,811.2 L778.0,813.3 L776.6,815.4 L776.9,818.2 L777.6,821.0 L778.3,823.8 L777.6,826.6 L777.6,828.7 L777.6,830.8 L779.7,832.9 L781.1,835.0 L780.4,837.8 L781.8,839.3 L782.5,841.3 L783.5,842.5 L785.1,843.2 L786.4,844.4 L788.0,845.2 L789.9,845.2 L791.7,845.7 L793.4,846.6 L795.6,845.7 L797.9,845.2 L799.4,844.0 L800.6,842.5 L802.4,841.6 L803.9,840.5 L805.0,839.2 L806.0,837.7 L806.9,836.2 L808.5,835.1 L809.6,833.5 L812.3,832.6 L813.1,830.9 L813.5,829.1 L813.6,827.2 L814.1,825.4 L814.8,827.1 L815.0,829.0 L816.4,830.8 L817.7,832.6 L819.0,833.6 L820.4,834.4 L821.4,832.7 L821.8,830.8 L822.5,829.1 L822.3,827.1 L823.1,825.4 L824.2,823.4 L825.8,821.8 M841.1,704.4 L847.4,707.3 L848.3,710.7 L842.0,709.8 L841.1,704.4 M826.0,727.0 L828.0,726.5 L829.0,729.0 L827.0,730.0 L826.0,727.0 M797.5,772.0 L798.6,771.0 L799.8,772.0 L798.6,773.2 L797.5,772.0 M906.7,733.8 L904.6,734.0 L902.5,733.8 L900.4,734.2 L898.6,735.1 L895.9,733.8 L894.1,734.2 L893.2,736.9 L891.9,738.3 L890.5,739.6 L889.9,741.1 L888.7,742.3 L888.7,745.0 L887.8,746.8 L886.9,748.6 L886.7,750.4 L886.9,752.2 L887.7,754.1 L888.7,755.8 L887.6,757.8 L886.0,759.4 L885.1,761.2 L884.2,763.0 L883.2,764.4 L882.0,765.6 L880.6,766.6 L878.6,767.7 L877.0,769.3 L875.1,770.1 L873.4,771.1 L872.1,772.5 L870.7,773.8 L869.2,775.0 L868.0,776.5 L866.9,778.2 L866.1,780.0 L865.7,781.9 L864.7,783.5 L863.0,784.6 L861.2,785.6 L861.7,787.3 L861.9,789.1 L861.7,790.8 L860.8,792.3 L860.5,794.0 L859.9,795.7 L859.8,797.5 L859.5,799.3 L859.1,801.0 L858.9,802.8 L859.2,804.5 L859.4,806.2 L859.4,808.0 L859.6,809.8 L859.8,811.5 L861.8,812.4 L864.0,812.9 L865.5,814.2 L866.8,815.7 L868.2,817.5 L869.6,819.2 L871.0,821.3 L871.3,823.0 L871.0,824.8 L869.6,826.2 L868.2,827.6 L866.1,829.0 L866.7,830.8 L867.5,832.5 L865.8,833.6 L864.0,834.6 L862.4,835.9 L860.5,836.7 L858.6,837.5 L857.0,838.8 L855.2,838.6 L853.5,838.8 L854.8,840.0 L856.3,840.9 L855.8,843.2 L856.0,845.0 L855.8,846.7 L855.3,849.6 L855.0,852.0 L855.3,854.3 L855.0,856.3 L854.7,858.3 L854.3,860.1 L853.5,861.8 L853.1,863.9 L852.5,866.0 L851.6,867.7 L850.3,869.0 L848.5,869.1 L846.7,869.2 L845.0,869.8 L843.0,870.3 L841.3,871.3 L840.0,872.7 L839.0,874.3 L838.6,876.5 L838.3,878.8 L836.4,879.2 L834.5,879.5 L832.7,879.0 L830.8,878.8 L830.1,877.0 L830.0,875.0 L829.0,873.3 L828.5,871.3 L828.9,869.4 L829.3,867.5 L830.0,864.5 L828.8,862.7 L827.8,860.8 L827.1,858.9 L825.9,857.2 L824.8,855.5 L823.9,854.1 L823.7,852.5 L822.8,851.1 L822.5,849.5 L822.1,847.9 L821.2,846.4 L820.3,845.0 L820.1,843.2 L819.4,841.6 L819.1,839.8 L818.9,838.0 L819.5,836.2 L819.5,834.4 M906.7,733.8 L909.4,734.2 L911.3,735.4 L913.0,736.9 L913.7,738.7 L914.4,740.5 L914.2,742.6 L914.3,744.7 L914.4,746.8 L913.0,748.6 L910.3,748.6 L909.3,750.3 L908.5,752.2 L907.6,753.7 L906.5,755.1 L905.8,756.7 L904.9,758.0 L904.2,759.6 L903.1,760.8 L902.2,762.1 L900.9,763.8 L899.0,764.9 L897.7,766.6 L896.3,767.9 L895.4,769.7 L894.1,771.1 L893.2,773.8 L891.0,774.4 L888.7,774.7 L886.0,774.7 L887.2,776.2 L888.7,777.4 L888.0,779.0 L887.1,780.5 L886.0,781.9 L886.2,784.1 L886.0,786.4 L886.4,787.0 L887.2,788.7 L887.8,790.5 L887.4,792.2 L887.1,794.0 L887.9,796.2 L889.2,798.2 L889.0,799.8 L888.2,801.3 L888.1,802.9 L887.8,804.5 L887.5,806.2 L887.6,808.0 L888.0,809.8 L887.8,811.5 L887.1,812.9 L888.7,813.7 L890.5,814.1 L892.0,815.0 L894.0,816.1 L895.5,817.8 L897.3,819.1 L899.0,820.6 L901.1,820.8 L903.2,820.6 L905.1,820.4 L906.9,819.9 L908.8,819.9 L911.0,819.1 L913.0,817.8 L914.9,817.4 L916.4,816.2 L918.2,815.7 L920.0,815.0 M875.5,817.0 L877.5,816.5 L878.0,818.5 L876.0,819.0 L875.5,817.0 M888.5,818.0 L890.5,817.5 L890.5,819.0 L888.5,819.0 L888.5,818.0 M882.0,812.5 L885.0,814.0 L888.0,816.5 L890.0,818.0 M920.0,825.5 L916.5,825.5 L910.2,827.6 L906.0,829.0 L903.2,830.4 L901.8,833.9 L903.2,838.1 L902.5,840.2 L904.6,841.6 L908.1,842.3 L908.8,845.8 L909.5,848.6 L910.9,847.2 L915.1,846.5 L920.0,849.3 M892.0,834.6 L895.5,833.2 L898.3,835.3 L897.6,838.1 L900.4,839.5 L899.0,841.6 L895.5,843.7 L892.0,843.7 L891.3,840.9 L894.8,838.8 L894.1,836.0 L892.0,834.6 M891.4,843.8 L893.2,846.7 L896.1,843.8 L899.6,840.8 M866.3,860.1 L867.5,858.3 L865.8,855.4 L865.8,852.5 L867.5,849.6 L871.0,847.8 L873.3,847.5 L871.6,849.6 L871.0,853.7 L869.3,856.6 L866.9,859.5 M907.8,848.4 L908.3,846.7 L908.9,842.6 L906.6,843.2 L903.7,840.8 M907.8,848.4 L908.3,852.5 L908.3,856.6 L906.0,858.3 L903.1,860.1 L900.2,857.2 L897.8,853.7 L895.5,850.8 L890.8,851.9 L888.5,854.3 L887.3,858.3 L885.6,861.8 L885.0,867.1 L885.6,871.2 L885.6,875.8 L883.8,880.5 L882.1,883.4 L886.2,883.4 L887.3,880.5 L890.8,882.3 L896.1,883.4 M907.8,848.4 L913.0,846.7 L917.1,848.4 L920.0,850.2 M885.6,870.6 L890.8,867.1 L895.5,866.8 L902.5,867.7 L908.3,868.3 L911.3,867.1 L913.0,869.4 L917.1,870.6 L920.0,872.9 M896.1,883.4 L897.3,885.2 L896.7,889.8 M917.7,885.2 L917.1,889.8 M854.1,889.8 L858.8,887.5 L865.2,885.2 L868.7,886.3 L870.4,888.1 M876.8,889.8 L877.4,886.3 M814.3,850.6 L810.5,852.5 L808.3,854.8 L806.8,857.0 L803.0,857.8 L800.0,859.3 L798.5,862.3 L797.8,866.0 L797.8,871.3 L798.5,876.5 L800.8,878.8 L801.5,882.5 L799.3,885.5 L802.3,887.8 L803.0,890.0 M814.3,850.6 L813.5,856.3 L812.8,862.3 L813.5,866.0 L816.5,866.8 L815.8,869.0 L812.8,869.8 L812.0,873.5 L809.8,876.5 L808.3,879.5 L807.5,882.5 L809.0,884.8 L810.5,887.0 L810.5,890.0 M810.5,878.8 L812.8,877.3 L815.0,878.0 L815.8,881.8 L813.5,883.3 L810.5,881.8 L810.5,878.8 M818.0,875.8 L821.0,873.5 L824.0,871.3 L827.0,870.5 L828.5,872.0 L827.8,875.8 L826.3,878.8 L827.0,882.5 L824.0,884.0 L822.5,886.3 L819.5,884.0 L818.0,879.5 L818.0,875.8 M803.0,885.5 L809.0,885.5 M816.0,886.0 L820.0,888.0 L822.5,887.8 L825.5,885.9 M832.3,889.3 L833.8,887.4 L835.3,889.3 M841.0,880.5 L843.0,880.5 L843.5,882.5 L841.5,883.0 L841.0,880.5 M854.8,889.3 L860.0,887.0 M817.0,855.5 L818.0,856.5 M788.0,845.5 L792.0,846.5 L798.5,845.0 M722.0,840.0 L721.4,842.9 L717.9,845.8 L715.6,848.2 L716.2,850.5 L715.0,852.3 L717.9,851.1 L722.0,850.5 L726.7,850.5 L730.2,851.7 L730.8,854.0 L729.0,857.5 L726.7,862.2 L724.3,865.7 L720.8,867.4 L724.3,866.8 L724.3,869.2 L722.0,870.9 L717.9,870.9 L720.8,871.8 L726.7,872.1 L730.2,875.0 L732.5,878.5 L733.1,883.2 L734.8,886.7 L737.8,889.0 L738.5,890.0 M722.0,840.0 L721.3,838.8 L713.6,839.5 L709.4,839.5 L708.6,840.0 M708.6,840.0 L708.5,841.0 L707.7,843.0 L706.4,844.3 L706.4,846.8 L707.7,848.1 L704.7,848.5 L703.9,850.6 L704.3,852.7 L703.5,854.8 L704.7,856.9 L703.9,859.0 L703.5,861.5 L702.2,863.2 L703.5,865.3 L705.6,865.3 L706.8,862.8 L707.7,863.2 L706.8,865.3 L706.0,867.4 L705.6,869.1 L705.6,870.8 L706.3,873.8 L707.3,872.5 L708.6,871.5 L710.3,872.7 L710.0,874.5 L710.3,876.2 L711.5,877.9 L710.4,879.2 L709.8,880.8 L708.6,882.1 L708.0,883.8 L709.2,886.7 L711.0,886.5 L712.7,886.1 L714.5,886.0 L716.2,886.1 L718.0,886.1 L719.7,885.5 L719.1,887.8 L718.5,890.0 M700.5,840.5 L697.5,842.5 L695.1,844.3 L694.7,846.4 L695.5,849.8 L697.5,848.0 L699.3,846.4 L700.5,842.2 L700.5,840.5 M692.0,851.3 L693.4,851.5 L693.2,853.0 L692.0,852.8 L692.0,851.3 L692.8,853.5 L693.0,855.6 L693.4,858.2 L692.1,859.8 M697.6,852.7 L699.7,851.4 L701.0,854.0 L700.1,856.5 L702.6,857.7 L704.7,856.5 L703.5,854.8 L701.5,855.5 L698.4,855.2 L697.6,852.7 M700.1,864.0 L701.0,867.4 L702.6,868.3 L703.9,866.6 L701.8,864.9 L700.1,864.0 M698.9,875.0 L701.8,872.0 L705.2,870.4 L708.5,869.5 L711.0,871.6 L708.5,874.1 L706.0,875.8 L701.8,875.8 L698.9,875.0 M683.5,887.3 L685.8,885.5 L686.4,882.6 L689.3,880.8 L693.4,879.7 L698.7,880.8 L701.6,881.4 L702.8,884.3 L703.3,887.3 L705.1,889.6 M689.0,890.0 L690.0,887.0 L692.5,885.0 M737.4,809.4 L735.3,812.2 L733.2,812.9 L731.8,817.1 L733.9,818.5 L734.6,822.0 L735.3,816.4 L736.0,812.2 L737.4,809.4 M721.0,834.0 L722.0,831.0 L725.0,830.0 L727.0,829.5 L724.0,832.0 L722.5,836.0 L721.0,834.0 M692.6,791.2 L694.7,788.4 L697.5,789.1 L698.9,787.7 L699.6,789.8 L697.5,791.9 L696.8,794.0 L697.8,796.1 L696.0,794.0 L694.0,792.0 M695.7,798.2 L697.5,801.3 M699.2,859.5 L700.2,860.2 M697.6,864.3 L698.4,864.8"/>
<path stroke-width="1.7" d="M402.0,780.0 L405.5,778.0 M408.0,793.0 L411.5,792.0 M428.5,810.0 L431.0,806.0 L432.0,804.5 M435.0,814.5 L439.0,812.0 M441.0,820.0 L443.0,817.5 M449.5,814.0 L445.5,812.5 M457.0,783.0 L452.0,782.5 M460.0,778.0 L457.5,775.5 M416.0,808.0 L418.0,810.5 L420.0,809.0 M378.0,608.5 L380.0,615.0 L382.0,622.0 M383.0,691.0 L388.0,692.5 L393.0,691.0 L395.5,689.5 M379.0,705.0 L382.0,702.0 L386.0,700.0 L393.0,701.0 L399.0,704.5 M390.0,701.0 L397.0,700.0 M381.5,728.5 L388.0,722.0 L395.5,716.0 M387.0,742.0 L392.0,736.0 L396.5,735.0 M392.0,759.0 L396.0,752.0 L400.0,751.0 L403.5,755.5 M398.0,744.5 L399.0,750.0 M393.5,762.0 L401.0,759.5 M401.5,780.5 L405.5,777.5 M317.2,713.0 L319.8,710.8 M833.0,726.0 L837.5,724.5 M825.8,744.0 L830.3,742.2 M788.1,782.5 L792.0,782.0 L797.2,781.8 M785.3,786.0 L788.8,786.0 M776.9,794.4 L782.0,794.2 L788.1,794.8 M776.2,805.3 L785.0,804.8 L794.4,804.2 M793.0,801.4 L791.5,804.0 L790.2,807.0 M778.3,814.0 L781.1,811.9 M779.0,818.2 L783.9,816.1 L790.2,814.0 M787.4,815.4 L787.1,818.2 M777.6,822.4 L784.6,823.8 M778.3,831.5 L786.0,827.3 M781.1,834.3 L786.0,834.3 M798.6,774.8 L801.4,780.4 M854.1,863.0 L858.5,855.4"/>
</g>
<g stroke="#000" fill="none" stroke-linecap="butt" stroke-linejoin="round"><path stroke-width="2.4" d="M594.6,744.4 L595.8,748.8 L595.4,753 L594.6,756.7 L593.6,760.5 L593.3,762.3"/><path stroke-width="1.2" d="M595,757 L597.5,757.3"/><path stroke-width="1.7" d="M596,750.8 L606.7,750.8"/><path stroke-width="1.6" d="M601.5,744.2 L601.5,750.5"/><path stroke-width="1.5" d="M609.4,744 L606.7,750.8 L610,762"/><path stroke-width="1.8" d="M593,762.5 L598.8,762.5"/><path stroke-width="1.9" d="M604.2,762.3 L610.5,762.3"/></g>
</g>
<rect x="310.5" y="321.5" width="610" height="569" fill="none" stroke="#000" stroke-width="1.1"/>
<text x="336.5" y="310" font-size="19.44" text-anchor="middle" fill="#000" >60°W</text>
<text x="336.5" y="912.3" font-size="19.44" text-anchor="middle" fill="#000" >60°W</text>
<text x="472.5" y="310" font-size="19.44" text-anchor="middle" fill="#000" >40°W</text>
<text x="472.5" y="912.3" font-size="19.44" text-anchor="middle" fill="#000" >40°W</text>
<text x="607.5" y="310" font-size="19.44" text-anchor="middle" fill="#000" >20°W</text>
<text x="607.5" y="912.3" font-size="19.44" text-anchor="middle" fill="#000" >20°W</text>
<text x="743.5" y="310" font-size="19.44" text-anchor="middle" fill="#000" >0°</text>
<text x="743.5" y="912.3" font-size="19.44" text-anchor="middle" fill="#000" >0°</text>
<text x="878.5" y="310" font-size="19.44" text-anchor="middle" fill="#000" >20°E</text>
<text x="878.5" y="912.3" font-size="19.44" text-anchor="middle" fill="#000" >20°E</text>
<text x="303.5" y="392.3" font-size="19.44" text-anchor="end" fill="#000" letter-spacing="-0.4">80°N</text>
<text x="927" y="392.3" font-size="19.44" text-anchor="start" fill="#000" letter-spacing="-0.4">80°N</text>
<text x="303.5" y="551.3" font-size="19.44" text-anchor="end" fill="#000" letter-spacing="-0.4">75°N</text>
<text x="927" y="551.3" font-size="19.44" text-anchor="start" fill="#000" letter-spacing="-0.4">75°N</text>
<text x="303.5" y="664.3" font-size="19.44" text-anchor="end" fill="#000" letter-spacing="-0.4">70°N</text>
<text x="927" y="664.3" font-size="19.44" text-anchor="start" fill="#000" letter-spacing="-0.4">70°N</text>
<text x="303.5" y="753.3" font-size="19.44" text-anchor="end" fill="#000" letter-spacing="-0.4">65°N</text>
<text x="927" y="753.3" font-size="19.44" text-anchor="start" fill="#000" letter-spacing="-0.4">65°N</text>
<text x="303.5" y="826.3" font-size="19.44" text-anchor="end" fill="#000" letter-spacing="-0.4">60°N</text>
<text x="927" y="826.3" font-size="19.44" text-anchor="start" fill="#000" letter-spacing="-0.4">60°N</text>
<text x="303.5" y="890.3" font-size="19.44" text-anchor="end" fill="#000" letter-spacing="-0.4">55°N</text>
<text x="927" y="890.3" font-size="19.44" text-anchor="start" fill="#000" letter-spacing="-0.4">55°N</text>
<text x="60" y="975" font-size="13.89" text-anchor="start" fill="#000" >© Met Office Crown Copyright</text>
</svg>
</body></html>
